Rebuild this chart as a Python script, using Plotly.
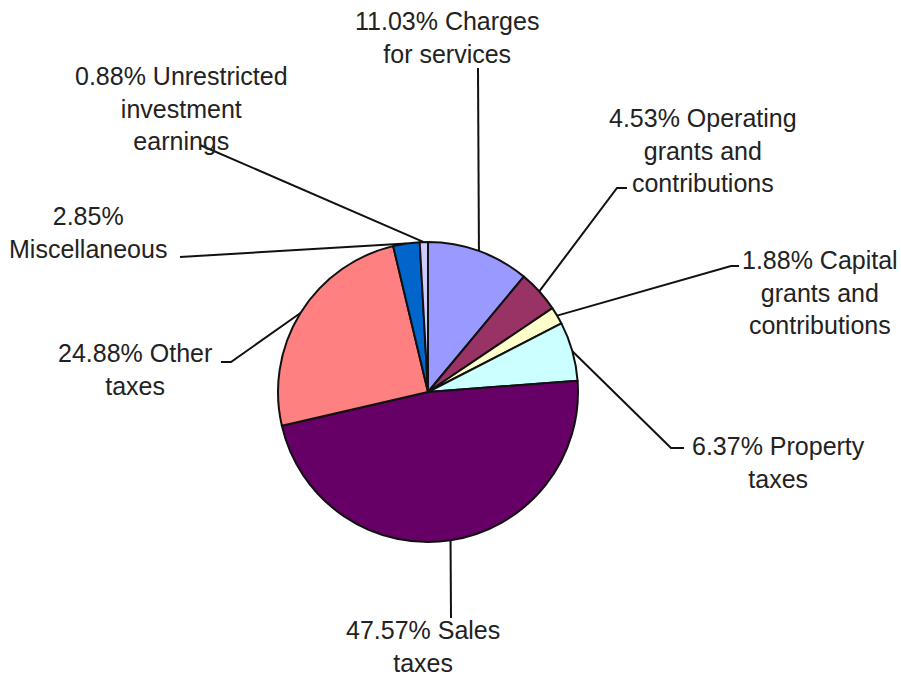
import math
import plotly.graph_objects as go

W, H = 901, 676

# slices, clockwise from 12 o'clock
categories = [
    "Charges for services",
    "Operating grants and contributions",
    "Capital grants and contributions",
    "Property taxes",
    "Sales taxes",
    "Other taxes",
    "Miscellaneous",
    "Unrestricted investment earnings",
]
shares = [11.03, 4.53, 1.88, 6.37, 47.57, 24.88, 2.85, 0.88]
slice_colors = ["#9999FF", "#993366", "#FFFFCC", "#CCFFFF",
                "#660066", "#FF8080", "#0066CC", "#CCCCFF"]
label_lines = [
    ["Charges", "for services"],
    ["Operating", "grants and", "contributions"],
    ["Capital", "grants and", "contributions"],
    ["Property", "taxes"],
    ["Sales", "taxes"],
    ["Other", "taxes"],
    ["", "Miscellaneous"],
    ["Unrestricted", "investment", "earnings"],
]

# pie geometry in pixels
cx, cy, r = 428, 392, 150

# where each label block sits (center) and the elbow points of its leader line
label_pos = [(447, 37), (703, 150), (820, 292), (778, 462),
             (423, 646), (135, 369), (88, 232), (181, 108)]
leader_bends = [
    [(478, 68)],
    [(617, 188), (627, 188)],
    [(731, 266), (739, 266)],
    [(671, 448), (684, 448)],
    [(451, 618)],
    [(231, 362), (221, 362)],
    [(180, 257)],
    [(200, 145)],
]

fig = go.Figure()

fig.add_trace(go.Pie(
    labels=categories,
    values=shares,
    sort=False,
    direction="clockwise",
    rotation=0,
    marker=dict(colors=slice_colors, line=dict(color="#111111", width=2)),
    textinfo="none",
    hoverinfo="label+percent",
    showlegend=False,
    domain=dict(x=[(cx - r) / W, (cx + r) / W],
                y=[1 - (cy + r) / H, 1 - (cy - r) / H]),
))

total = sum(shares)
cum = 0.0
for i, v in enumerate(shares):
    mid = (cum + v / 2) / total
    cum += v
    ang = 2 * math.pi * mid
    ax = cx + r * math.sin(ang)
    ay = cy - r * math.cos(ang)
    pts = [(ax, ay)] + leader_bends[i]
    fig.add_trace(go.Scatter(
        x=[p[0] for p in pts], y=[p[1] for p in pts],
        mode="lines", line=dict(color="#111111", width=2),
        hoverinfo="skip", showlegend=False,
    ))
    lines = list(label_lines[i])
    head = f"{v:.2f}%"
    lines[0] = (head + " " + lines[0]) if lines[0] else head
    fig.add_annotation(
        x=label_pos[i][0], y=label_pos[i][1], xref="x", yref="y",
        text="<br>".join(lines), showarrow=False,
        xanchor="center", yanchor="middle", align="center",
        font=dict(family="Liberation Sans, Arial, sans-serif", size=25, color="#222222"),
    )

fig.update_layout(
    width=W, height=H,
    margin=dict(l=0, r=0, t=0, b=0),
    paper_bgcolor="white",
    plot_bgcolor="rgba(0,0,0,0)",
    xaxis=dict(range=[0, W], visible=False, fixedrange=True),
    yaxis=dict(range=[H, 0], visible=False, fixedrange=True),
)

# drop the default body margin so the figure starts at the window corner
fig.write_html("out.html", config={"displayModeBar": False},
               post_script="document.body.style.margin='0';")
